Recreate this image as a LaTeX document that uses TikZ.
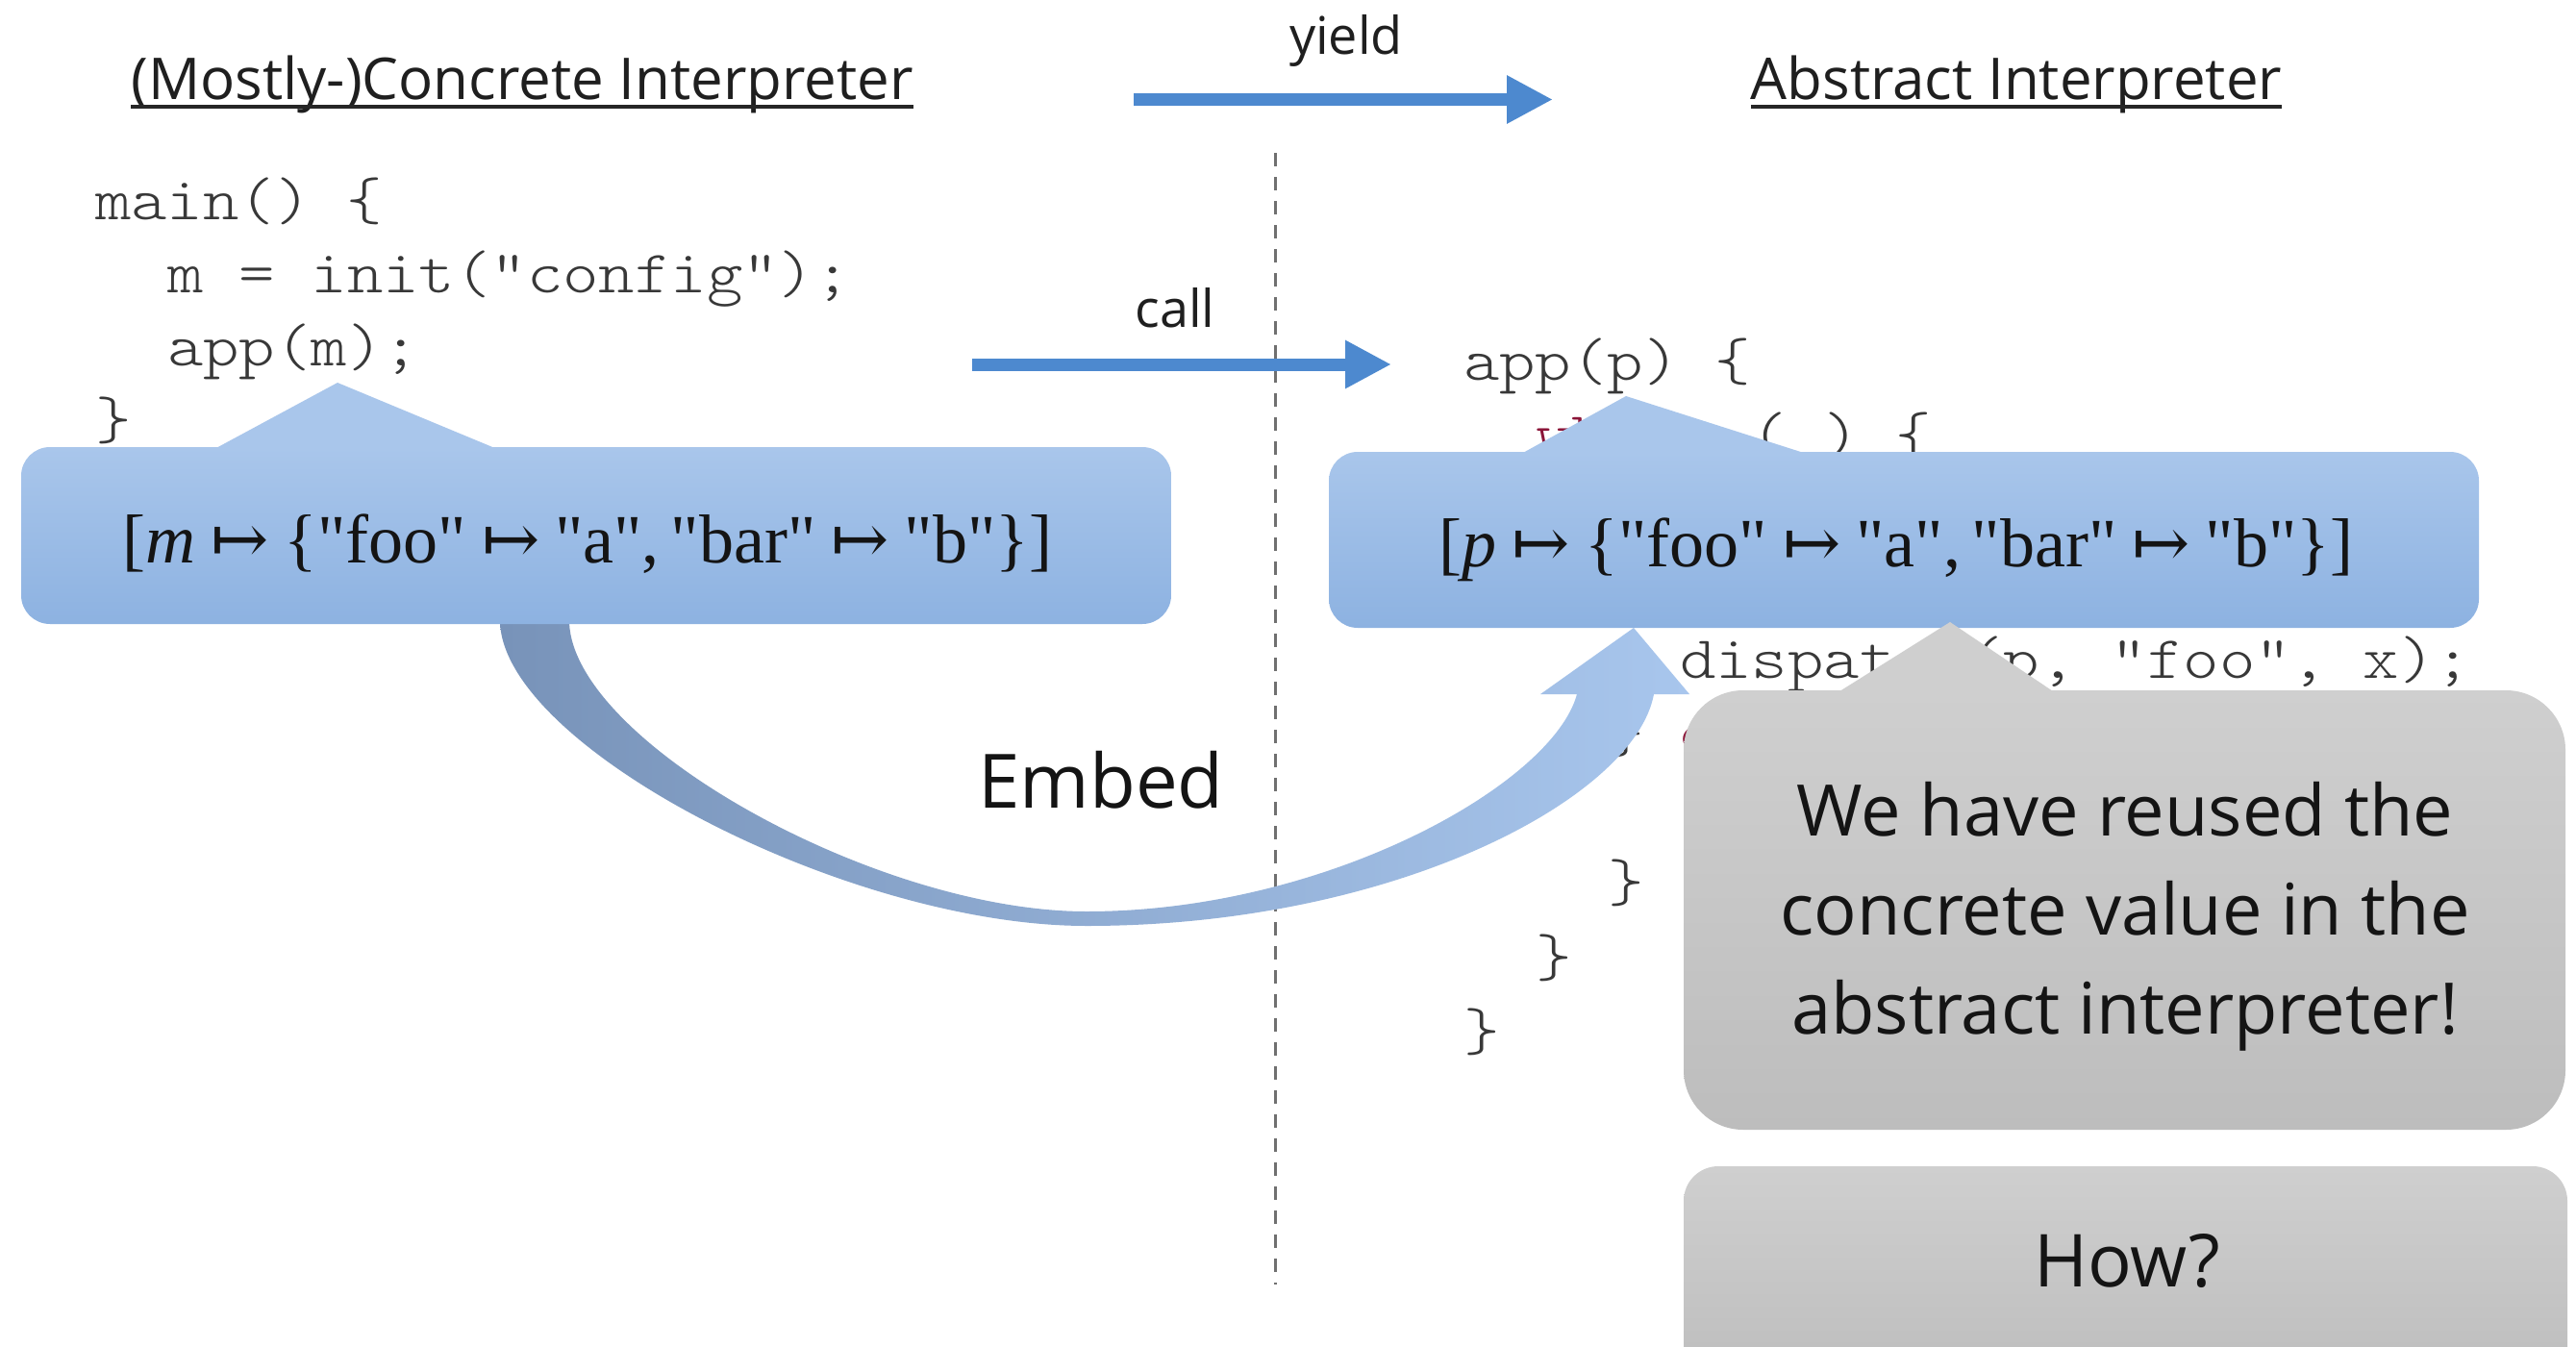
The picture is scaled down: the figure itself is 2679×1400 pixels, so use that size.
\documentclass[tikz,border=0pt]{standalone}
\usepackage{fontspec}
\setmainfont{Open Sans}
\newfontfamily\codefont{lmmonolt10-regular.otf}[FakeStretch=1.14]
\newfontfamily\mapfont{Liberation Serif}
\newfontfamily\symfont{DejaVu Serif}
\usetikzlibrary{arrows.meta}

\definecolor{arrowblue}{HTML}{4D89CF}
\definecolor{boxtop}{HTML}{A9C6EB}
\definecolor{boxbot}{HTML}{8DB2E1}
\definecolor{greytop}{HTML}{CFCFCF}
\definecolor{greybot}{HTML}{BDBDBD}
\definecolor{embedL}{HTML}{7893B9}
\definecolor{embedR}{HTML}{A8C6ED}
\definecolor{codegrey}{HTML}{383838}
\definecolor{codekw}{HTML}{8B1538}
\definecolor{divider}{HTML}{707070}

% maps-to arrow with relation spacing
\newcommand\mapsarrow{\hspace{0.22em}{\symfont ↦}\hspace{0.22em}}

\begin{document}
\begin{tikzpicture}[x=1pt,y=-1pt,
  every node/.style={inner sep=0pt, outer sep=0pt},
  heading/.style={font=\fontsize{60}{72}\selectfont, text=black!88, anchor=base},
  flowlabel/.style={font=\fontsize{54}{64}\selectfont, text=black!88, anchor=base},
  code/.style={font=\codefont\fontsize{62.5}{75}\selectfont, text=codegrey, anchor=base west},
  flowarrow/.style={draw=arrowblue, line width=13pt, -{Triangle[length=48pt,width=47pt]}},
  bluebox/.style={rounded corners=30pt, top color=boxtop, bottom color=boxbot},
  mapping/.style={font=\mapfont\fontsize{72}{80}\selectfont, text=black!92, anchor=base},
  greybox/.style={rounded corners=62pt, top color=greytop, bottom color=greybot},
  underline/.style={line width=4pt, black!85},
]
% canvas
\useasboundingbox (0,0) rectangle (2679,1400);
\fill[white] (0,0) rectangle (2679,1400);

% headings
\node[heading] (ctitle) at (543,103) {(Mostly-)Concrete Interpreter};
\node[heading] (atitle) at (2097,103) {Abstract Interpreter};
\draw[underline] ([yshift=-8pt]ctitle.base west) -- ([yshift=-8pt]ctitle.base east);
\draw[underline] ([yshift=-8pt]atitle.base west) -- ([yshift=-8pt]atitle.base east);

% yield arrow
\coordinate (yieldS) at (1179,103.5);
\coordinate (yieldE) at (1615,103.5);
\draw[flowarrow] (yieldS) -- (yieldE);
\node[flowlabel] (yieldlbl) at (1400,56) {yield};

% divider between the two interpreters
\coordinate (dtop) at (1326,159);
\coordinate (dbot) at (1326,1336);
\draw[divider, line width=3pt, dash pattern=on 14pt off 11pt] (dtop) -- (dbot);

% concrete program
\node[code] (l1) at (99,228) {main() \{};
\node[code] (l2) at (174,304) {m = init("config");};
\node[code] (l3) at (174,380) {app(m);};
\node[code] (l4) at (99,456) {\}};

% abstract program
\node[code] (r1) at (1522,395) {app(p) \{};
\node[code] (r2) at (1597,472.5) {\textcolor{codekw}{while} ( ) \{};
\node[code] (r5) at (1747,705) {dispatch(p, “foo”, x);};
\node[code] (r6) at (1672,782.5) {\} \textcolor{codekw}{else} \{};
\node[code] (r8) at (1672,937.5) {\}};
\node[code] (r9) at (1597,1015) {\}};
\node[code] (r10) at (1522,1092.5) {\}};

% call arrow
\coordinate (callS) at (1011,379);
\coordinate (callE) at (1447,379);
\draw[flowarrow] (callS) -- (callE);
\node[flowlabel] (calllbl) at (1222,340) {call};

% curved embed arrow
\shade[left color=embedL, right color=embedR]
  (520,645) .. controls (520,775) and (880,963) .. (1130,963)
  .. controls (1450,963) and (1700,830) .. (1720,722)
  -- (1757,722) -- (1699,653) -- (1602,722) -- (1640,722)
  .. controls (1615,815) and (1380,948) .. (1130,948)
  .. controls (910,948) and (592,769) .. (592,645) -- cycle;
\node[font=\fontsize{78}{90}\selectfont, text=black!92, anchor=base] (embed) at (1145,840) {Embed};

% concrete environment callout
\node[bluebox, minimum width=1196pt, minimum height=184pt] (lbox) at (620,557) {};
\fill[boxtop] (351,398) -- (223,467) -- (517,467) -- cycle;
\node[mapping] (lmap) at (611,585) {[\textit{m}\mapsarrow\{"foo"\mapsarrow"a",\,"bar"\mapsarrow"b"\}]};

% abstract environment callout
\node[bluebox, minimum width=1196pt, minimum height=183pt] (rbox) at (1980,561.5) {};
\fill[boxtop] (1691,412) -- (1582,472) -- (1879,472) -- cycle;
\node[mapping] (rmap) at (1972,589) {[\textit{p}\mapsarrow\{"foo"\mapsarrow"a",\,"bar"\mapsarrow"b"\}]};

% remark callout
\node[greybox, minimum width=917pt, minimum height=457pt] (gbox) at (2209.5,946.5) {};
\fill[greytop] (2028,647) -- (1910,721) -- (2138,721) -- cycle;
\node[font=\fontsize{74}{103}\selectfont, align=center, text=black!92] (note) at (2210,953)
  {We have reused the\\concrete value in the\\abstract interpreter!};

% question box
\node[greybox, rounded corners=36pt, minimum width=919pt, minimum height=227pt] (hbox) at (2210.5,1326.5) {};
\node[font=\fontsize{76}{90}\selectfont, text=black!92, anchor=base] (how) at (2212,1338) {How?};
\end{tikzpicture}
\end{document}
